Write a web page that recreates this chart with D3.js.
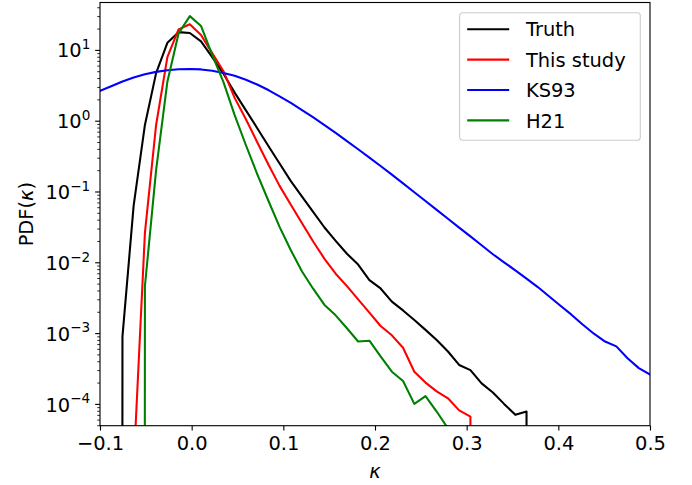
<!DOCTYPE html>
<html>
<head>
<meta charset="utf-8">
<script src="https://cdn.jsdelivr.net/npm/d3@7"></script>
<style>
body { margin: 0; background: #fff; }
text { font-family: "DejaVu Sans", sans-serif; }
</style>
</head>
<body>
<svg id="chart"></svg>
<script>
// kappa grid of the histogram
var kappa = [-0.1, -0.0878, -0.0755, -0.0633, -0.051, -0.0388, -0.0265, -0.0143, -0.002, 0.0102,
  0.0224, 0.0347, 0.0469, 0.0592, 0.0714, 0.0837, 0.0959, 0.1082, 0.1204, 0.1327,
  0.1449, 0.1571, 0.1694, 0.1816, 0.1939, 0.2061, 0.2184, 0.2306, 0.2429, 0.2551,
  0.2673, 0.2796, 0.2918, 0.3041, 0.3163, 0.3286, 0.3408, 0.3531, 0.3653, 0.3776,
  0.3898, 0.402, 0.4143, 0.4265, 0.4388, 0.451, 0.4633, 0.4755, 0.4878, 0.5];

var truth = [0, 0, 8.9e-4, 0.063, 0.87, 4.7, 12.6, 17.8, 17.3, 13.2,
  7.9, 4.6, 2.49, 1.40, 0.79, 0.44, 0.249, 0.14, 0.0847, 0.0513,
  0.031, 0.0201, 0.0132, 0.0093, 0.0056, 0.00427, 0.00278, 0.00209, 0.00153, 0.00111,
  8.0e-4, 5.5e-4, 3.55e-4, 3.0e-4, 1.95e-4, 1.45e-4, 1.0e-4, 7.0e-5, 7.8e-5, 0,
  0, 0, 0, 0, 0, 0, 0, 0, 0, 0];

var thisStudy = [0, 0, 0, 1.3e-5, 0.026, 0.87, 7.9, 19.5, 23, 16.2,
  9.0, 5.0, 2.1, 1.05, 0.50, 0.24, 0.12, 0.065, 0.0355, 0.0195,
  0.0112, 0.0069, 0.0046, 0.0030, 0.00195, 0.00126, 9.3e-4, 6.2e-4, 2.85e-4, 2.0e-4,
  1.5e-4, 1.2e-4, 8.1e-5, 6.6e-5, 0, 0, 0, 0, 0, 0,
  0, 0, 0, 0, 0, 0, 0, 0, 0, 0];

var ks93 = [2.63, 3.07, 3.57, 4.06, 4.52, 4.89, 5.17, 5.33, 5.37, 5.30,
  5.08, 4.73, 4.30, 3.78, 3.24, 2.71, 2.21, 1.78, 1.41, 1.11,
  0.867, 0.671, 0.516, 0.395, 0.301, 0.229, 0.173, 0.130, 0.0977, 0.0733,
  0.055, 0.0412, 0.0309, 0.0232, 0.0174, 0.0130, 0.0100, 0.00767, 0.00589, 0.00447,
  0.00331, 0.00245, 0.00182, 0.00132, 9.8e-4, 7.6e-4, 6.5e-4, 4.4e-4, 3.2e-4, 2.6e-4];

var h21 = [0, 0, 0, 0, 0.0046, 0.2, 3.55, 17.1, 30, 21.8,
  8.5, 3.5, 1.2, 0.45, 0.178, 0.074, 0.0316, 0.0148, 0.0074, 0.0042,
  0.0025, 0.00178, 0.00117, 7.6e-4, 7.8e-4, 4.7e-4, 2.85e-4, 2.1e-4, 1.0e-4, 1.29e-4,
  7.8e-5, 4.5e-5, 0, 0, 0, 0, 0, 0, 0, 0,
  0, 0, 0, 0, 0, 0, 0, 0, 0, 0];

var seriesNames = ["Truth", "This study", "KS93", "H21"];
var seriesValues = [truth, thisStudy, ks93, h21];
var seriesColors = ["#000000", "#ff0000", "#0000ff", "#008000"];

var xTicks = [-0.1, 0.0, 0.1, 0.2, 0.3, 0.4, 0.5];
var xTickLabels = ["\u22120.1", "0.0", "0.1", "0.2", "0.3", "0.4", "0.5"];
var yTicks = [1e-4, 1e-3, 1e-2, 1e-1, 1, 10];
var yTickExp = ["\u22124", "\u22123", "\u22122", "\u22121", "0", "1"];

// size and plot box
var W = 692, H = 485;
var margin = {top: 2.5, right: 42, bottom: 59.3, left: 100};
var width = W - margin.left - margin.right,
    height = H - margin.top - margin.bottom;
var fs = 19.44;

var svg = d3.select("#chart")
  .attr("width", W)
  .attr("height", H);

var g = svg.append("g")
  .attr("transform", "translate(" + margin.left + "," + margin.top + ")");

var x = d3.scaleLinear().domain([-0.1, 0.5]).range([0, width]);
var y = d3.scaleLog().domain([4.92e-5, 46.7]).range([height, 0]);

svg.append("defs").append("clipPath").attr("id", "plotclip")
  .append("rect").attr("width", width).attr("height", height);

// lines (empty bins clipped to a tiny value, like matplotlib does)
var line = d3.line()
  .x(function(d) { return x(d[0]); })
  .y(function(d) { return y(d[1] > 0 ? d[1] : 1e-300); });

var lines = g.append("g").attr("clip-path", "url(#plotclip)");
seriesValues.forEach(function(vals, i) {
  var pts = kappa.map(function(k, j) { return [k, vals[j]]; });
  lines.append("path")
    .datum(pts)
    .attr("fill", "none")
    .attr("stroke", seriesColors[i])
    .attr("stroke-width", 2.08)
    .attr("stroke-linejoin", "round")
    .attr("stroke-linecap", "square")
    .attr("d", line);
});

// x axis
var xAxis = g.append("g")
  .attr("transform", "translate(0," + height + ")")
  .call(d3.axisBottom(x).tickValues(xTicks).tickSize(4.86).tickPadding(4.86)
    .tickFormat(function(d, i) { return xTickLabels[i]; }));
xAxis.select(".domain").remove();
xAxis.selectAll("line").attr("stroke", "#000").attr("stroke-width", 1.11);
xAxis.selectAll("text").attr("font-size", fs).attr("fill", "#000")
  .attr("dy", null).attr("y", 4.86 + 4.86 + 14.6);

// y minor ticks
var minor = [];
for (var e = -5; e <= 1; e++) {
  for (var m = 2; m <= 9; m++) {
    var v = m * Math.pow(10, e);
    if (v >= y.domain()[0] && v <= y.domain()[1]) minor.push(v);
  }
}
var yMinor = g.append("g")
  .call(d3.axisLeft(y).tickValues(minor).tickSize(2.78).tickFormat(""));
yMinor.select(".domain").remove();
yMinor.selectAll("line").attr("stroke", "#000").attr("stroke-width", 0.83);

// y major ticks with 10^n labels
var yAxis = g.append("g")
  .call(d3.axisLeft(y).tickValues(yTicks).tickSize(4.86).tickPadding(4.86).tickFormat(""));
yAxis.select(".domain").remove();
yAxis.selectAll("line").attr("stroke", "#000").attr("stroke-width", 1.11);
yAxis.selectAll(".tick text")
  .attr("font-size", fs).attr("fill", "#000").attr("dy", null).attr("y", 7.1)
  .each(function(d, i) {
    var t = d3.select(this);
    t.append("tspan").text("10");
    t.append("tspan").attr("font-size", fs * 0.7).attr("dy", -8.2).text(yTickExp[i]);
  });

// frame
g.append("rect")
  .attr("width", width).attr("height", height)
  .attr("fill", "none").attr("stroke", "#000").attr("stroke-width", 1.11);

// axis labels
var xl = svg.append("text")
  .attr("x", margin.left + width / 2).attr("y", 478)
  .attr("text-anchor", "middle").attr("font-size", fs)
  .attr("font-style", "italic").text("\u03BA");

var yl = svg.append("text")
  .attr("transform", "translate(33," + (margin.top + height / 2) + ") rotate(-90)")
  .attr("text-anchor", "middle").attr("font-size", fs);
yl.append("tspan").text("PDF(");
yl.append("tspan").attr("font-style", "italic").text("\u03BA");
yl.append("tspan").text(")");

// legend
var leg = g.append("g").attr("transform", "translate(" + (x(0.5) - 190.4) + ",10.2)");
leg.append("rect")
  .attr("width", 180.7).attr("height", 127.5).attr("rx", 3)
  .attr("fill", "#fff").attr("fill-opacity", 0.8)
  .attr("stroke", "#cccccc").attr("stroke-width", 1.11);
seriesNames.forEach(function(name, i) {
  var cy = 16.5 + i * 30.4;
  leg.append("line")
    .attr("x1", 7.6).attr("x2", 49.6).attr("y1", cy).attr("y2", cy)
    .attr("stroke", seriesColors[i]).attr("stroke-width", 2.08);
  leg.append("text")
    .attr("x", 66.3).attr("y", cy + 7.2)
    .attr("font-size", fs).text(name);
});
</script>
</body>
</html>
